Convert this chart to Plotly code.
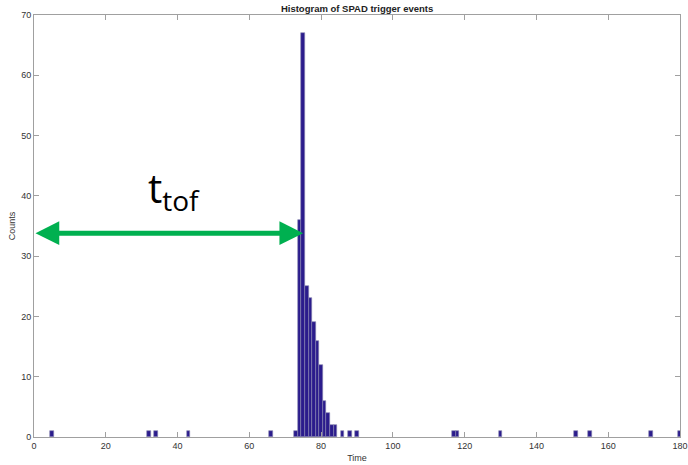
import plotly.graph_objects as go

# Histogram bins (bin centre in time units) and their counts
bin_centers = [5, 32, 34, 43, 66, 73, 74, 75, 76, 77, 78, 79, 80, 81, 82, 83, 84,
               86, 88, 90, 117, 118, 130, 151, 155, 172, 180]
counts = [1, 1, 1, 1, 1, 1, 36, 67, 25, 23, 19, 16, 12, 6, 4, 2, 2,
          1, 1, 1, 1, 1, 1, 1, 1, 1, 1]

x_ticks = list(range(0, 181, 20))
y_ticks = list(range(0, 71, 10))

# Time-of-flight marker: from t=0 to the peak onset, at this count level
tof_start, tof_end, tof_level = 0, 75, 33.8

fig = go.Figure()
fig.add_trace(go.Bar(
    x=bin_centers, y=counts, width=1,
    marker=dict(color="#2b1c8c", line=dict(color="#8a86b0", width=0.6)),
    hoverinfo="x+y",
))

axis_common = dict(
    showline=True, linecolor="#a0a0a0", linewidth=1, mirror="ticks",
    ticks="inside", ticklen=5, tickcolor="#a0a0a0",
    showgrid=False, zeroline=False, automargin=False,
    tickfont=dict(family="Liberation Sans, Arial, sans-serif", size=9, color="#333333"),
)

fig.update_xaxes(range=[0, 180], tickvals=x_ticks,
                 title=dict(text="Time", standoff=4,
                            font=dict(family="Liberation Sans, Arial, sans-serif", size=9, color="#333333")),
                 **axis_common)
fig.update_yaxes(range=[0, 70], tickvals=y_ticks,
                 title=dict(text="Counts", standoff=4,
                            font=dict(family="Liberation Sans, Arial, sans-serif", size=9, color="#333333")),
                 **axis_common)

# Double-headed arrow for t_tof
fig.add_annotation(
    x=tof_end, y=tof_level, ax=tof_start, ay=tof_level,
    xref="x", yref="y", axref="x", ayref="y",
    showarrow=True, arrowside="end+start",
    arrowhead=2, startarrowhead=2, arrowsize=0.95, startarrowsize=0.95,
    arrowwidth=5, arrowcolor="#00b050", standoff=0, startstandoff=0, text="",
)
fig.add_annotation(
    x=39, y=41, xref="x", yref="y", showarrow=False,
    text="t<sub>tof</sub>",
    font=dict(family="Open Sans, Noto Sans, sans-serif", size=40, color="#000000"),
)

fig.update_layout(
    width=688, height=465,
    margin=dict(l=34, r=8, t=15, b=28),
    paper_bgcolor="white", plot_bgcolor="white",
    bargap=0, showlegend=False,
    title=dict(text="<b>Histogram of SPAD trigger events</b>", x=0.519, xanchor="center",
               y=0.988, yanchor="top",
               font=dict(family="Liberation Sans, Arial, sans-serif", size=9.5, color="#222222")),
)

fig.write_html("out.html")
